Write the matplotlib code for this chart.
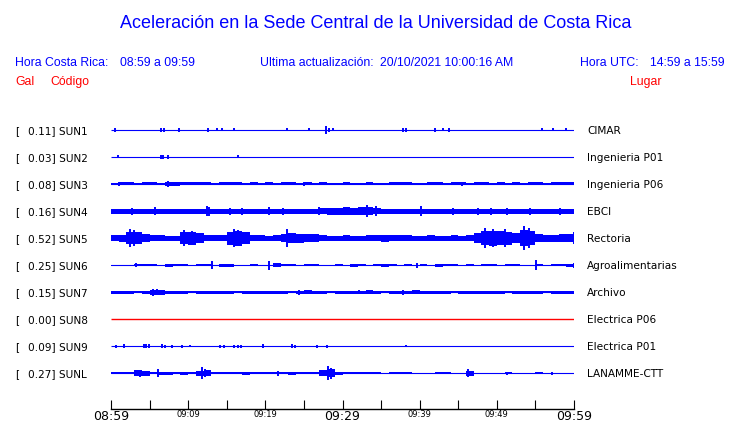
import numpy as np
import matplotlib
matplotlib.use("Agg")
import matplotlib.pyplot as plt

# station codes, peak acceleration (Gal) and site names
codes = ["SUN1", "SUN2", "SUN3", "SUN4", "SUN5", "SUN6", "SUN7", "SUN8", "SUN9", "SUNL"]
peaks = ["0.11", "0.03", "0.08", "0.16", "0.52", "0.25", "0.15", "0.00", "0.09", "0.27"]
places = ["CIMAR", "Ingenieria P01", "Ingenieria P06", "EBCI", "Rectoria",
          "Agroalimentarias", "Archivo", "Electrica P06", "Electrica P01", "LANAMME-CTT"]

# envelope half-amplitude per minute (pixels), 08:59 -> 09:59
env_sun1 = [0] * 60
env_sun2 = [0] * 60
env_sun3 = [1.0, 1.5, 1.5, 1.0, 1.5, 1.5, 1.0, 2.0, 2.0, 1.5,
            1.5, 1.5, 1.5, 1.0, 1.5, 1.5, 1.5, 1.0, 1.5, 1.0,
            1.5, 1.0, 1.5, 1.5, 1.0, 1.5, 1.0, 1.5, 1.0, 1.0,
            1.5, 1.0, 1.0, 1.5, 1.0, 1.0, 1.5, 1.5, 1.5, 1.0,
            1.0, 1.5, 1.5, 1.0, 1.5, 1.5, 1.0, 1.5, 1.5, 1.0,
            1.5, 1.0, 1.5, 1.0, 1.5, 1.5, 1.0, 1.5, 1.5, 1.5]
env_sun4 = [2.5, 2.5, 2.5, 2.5, 2.5, 2.5, 2.5, 2.5, 2.5, 2.5,
            2.5, 2.5, 2.5, 2.5, 2.5, 2.5, 2.5, 2.5, 2.5, 2.5,
            2.5, 2.5, 2.5, 2.5, 2.5, 2.5, 2.5, 3.0, 3.5, 3.5,
            4.0, 3.5, 4.0, 4.0, 3.0, 2.5, 2.5, 2.5, 2.5, 2.5,
            2.5, 2.5, 2.5, 2.5, 2.5, 2.5, 2.5, 2.5, 2.5, 2.5,
            2.5, 2.5, 2.5, 2.5, 2.5, 2.5, 2.5, 2.5, 2.5, 2.5]
env_sun5 = [3.0, 3.5, 6.0, 6.0, 4.0, 3.0, 3.0, 2.5, 2.5, 6.0,
            6.5, 5.0, 3.0, 3.0, 3.0, 6.5, 7.5, 6.0, 3.0, 3.0,
            2.5, 3.0, 4.0, 5.0, 4.5, 4.0, 4.0, 3.0, 2.5, 2.5,
            3.0, 2.5, 2.5, 3.0, 3.0, 3.5, 3.0, 3.0, 3.0, 2.5,
            2.5, 3.0, 2.5, 2.5, 3.0, 2.5, 3.0, 5.0, 7.0, 7.5,
            7.0, 6.5, 5.0, 8.0, 7.0, 4.0, 3.5, 3.5, 4.0, 4.0]
env_sun6 = [0.5, 0.5, 0.5, 1.2, 1.2, 1.2, 0.5, 1.5, 1.2, 1.2,
            0.5, 1.2, 1.2, 0.5, 1.5, 1.5, 0.5, 0.5, 1.2, 0.5,
            0.5, 2.0, 1.2, 1.2, 0.5, 1.2, 1.2, 0.5, 0.5, 1.2,
            0.5, 1.5, 1.2, 0.5, 1.2, 1.5, 1.2, 0.5, 1.2, 0.5,
            1.2, 0.5, 1.5, 1.2, 1.2, 0.5, 1.2, 0.5, 1.2, 1.2,
            0.5, 1.2, 1.2, 0.5, 0.5, 1.2, 0.5, 1.2, 1.2, 1.5]
env_sun7 = [1.5, 1.5, 1.5, 1.0, 1.5, 2.5, 2.5, 1.5, 1.5, 1.5,
            1.0, 1.5, 1.5, 1.5, 1.5, 1.5, 1.0, 1.5, 1.5, 1.5,
            1.5, 1.5, 1.5, 1.0, 1.5, 2.0, 1.5, 1.5, 1.0, 1.5,
            1.5, 1.5, 1.5, 2.0, 1.5, 1.0, 1.5, 1.5, 1.5, 2.0,
            1.5, 1.5, 1.5, 1.5, 1.0, 1.5, 1.5, 1.5, 1.5, 1.5,
            1.5, 1.0, 1.5, 1.5, 1.5, 1.5, 1.0, 1.5, 1.5, 1.5]
env_sun8 = [0] * 60
env_sun9 = [0] * 60
env_sunl = [1.0, 1.2, 1.2, 3.0, 2.5, 1.2, 1.5, 1.5, 1.2, 1.5,
            1.2, 2.5, 3.0, 1.2, 1.0, 1.2, 1.2, 1.5, 1.2, 1.2,
            1.2, 1.2, 1.0, 1.5, 1.2, 1.2, 1.0, 3.0, 4.0, 1.5,
            1.2, 1.2, 1.0, 1.2, 1.0, 0.5, 1.2, 1.2, 1.0, 0.5,
            0.5, 0.5, 1.2, 1.2, 0.5, 0.5, 2.5, 0.5, 0.5, 0.5,
            0.5, 0.8, 0.5, 0.5, 0.5, 0.8, 0.5, 0.5, 0.5, 0.5]

# isolated spikes: (minute after 08:59, half height in pixels)
spk_sun1 = [(0.5, 2), (6.5, 2), (6.9, 2), (8.8, 2), (12.6, 2), (13.7, 1.5), (14.4, 1.5),
            (16.0, 1.5), (22.8, 1.5), (25.7, 1.5), (27.9, 4), (28.3, 2), (28.8, 1.5),
            (37.9, 2), (38.2, 2), (42.0, 2), (43.0, 1.5), (43.8, 2), (55.8, 1.5),
            (57.3, 1.5), (59.0, 1.5)]
spk_sun2 = [(0.9, 1.5), (6.5, 2), (6.8, 2), (7.4, 2), (16.4, 1.5)]
spk_sun3 = [(1.0, 2), (7.4, 3), (25.0, 2), (45.5, 2)]
spk_sun4 = [(2.7, 3.5), (5.7, 4), (12.5, 5), (12.7, 4.5), (15.4, 3.5), (17.0, 3.5),
            (20.5, 4), (22.3, 3.5), (27.0, 4), (33.2, 6), (34.3, 5), (40.2, 5),
            (44.3, 3.5), (47.6, 3.5), (49.2, 3.5), (51.3, 3.5), (54.3, 3.5), (58.2, 3.5)]
spk_sun5 = [(2.5, 9), (3.0, 8), (9.5, 8), (10.5, 7), (16.0, 9), (16.5, 8), (22.8, 9),
            (48.5, 10), (49.5, 9), (51.0, 9), (53.5, 12), (54.2, 10), (60.0, 6)]
spk_sun6 = [(3.2, 2), (13.1, 4), (20.5, 4.5), (39.7, 2.5), (55.1, 5), (60.0, 2.5)]
spk_sun7 = [(5.5, 3.5), (5.9, 3), (24.3, 2.5), (32.2, 2), (37.9, 2.5)]
spk_sun8 = []
spk_sun9 = [(0.7, 1.5), (1.7, 2), (4.3, 2), (4.6, 2), (4.9, 2), (6.6, 2), (7.0, 1.5),
            (7.9, 1.5), (9.2, 1.5), (10.2, 1), (14.1, 1.5), (14.7, 1.5), (15.9, 1.5),
            (16.4, 1.5), (16.8, 1.5), (19.7, 2), (23.5, 2), (23.9, 1.5), (26.7, 1.5),
            (28.0, 1.5), (38.2, 1)]
spk_sunl = [(3.8, 3.5), (6.1, 4), (11.8, 6), (12.2, 4), (21.6, 2.5), (28.1, 7),
            (28.5, 5.5), (46.3, 4), (51.3, 1.5), (57.1, 1.5)]

envs = [env_sun1, env_sun2, env_sun3, env_sun4, env_sun5,
        env_sun6, env_sun7, env_sun8, env_sun9, env_sunl]
spikes = [spk_sun1, spk_sun2, spk_sun3, spk_sun4, spk_sun5,
          spk_sun6, spk_sun7, spk_sun8, spk_sun9, spk_sunl]

tick_minutes = [0, 10, 20, 30, 40, 50, 60]
tick_labels = ["08:59", "09:09", "09:19", "09:29", "09:39", "09:49", "09:59"]
big_labels = ["08:59", "09:29", "09:59"]

W, H = 740, 423
BLUE = "#0000ff"
RED = "#ff0000"


def fx(x):
    return x / W


def fy(y):
    return 1 - y / H


fig = plt.figure(figsize=(W / 100, H / 100), dpi=100)
ax = fig.add_axes([fx(111), fy(409), (574 - 111) / W, (409 - 115) / H])
ax.set_xlim(0, 60)
ax.set_ylim(409, 115)  # pixel rows, downward

first, step = 130, 27
edges = np.arange(61)
for k in range(len(codes)):
    c = first + step * k
    col = RED if codes[k] == "SUN8" else BLUE
    ax.hlines(c, 0, 60, color=col, lw=1.0 if col == RED else 0.8)
    e = np.array(envs[k] + [envs[k][-1]], dtype=float)
    if e.max() > 0:
        ax.fill_between(edges, c - e, c + e, step="post", color=col, lw=0)
    for m, h in spikes[k]:
        ax.vlines(m, c - h, c + h, color=col, lw=1.4)
    ty = c + 4
    fig.text(fx(15), fy(ty), "[", fontsize=7.6, va="baseline", family="DejaVu Sans")
    fig.text(fx(28), fy(ty), peaks[k] + "] " + codes[k], fontsize=7.6, va="baseline",
             family="DejaVu Sans")
    fig.text(fx(587), fy(ty), places[k], fontsize=7.6, va="baseline", family="DejaVu Sans")

for s in ["top", "left", "right"]:
    ax.spines[s].set_visible(False)
ax.spines["bottom"].set_linewidth(1.0)
ax.set_yticks([])
ax.set_xticks(tick_minutes, tick_labels)
ax.set_xticks(np.arange(0, 61, 5), minor=True)
ax.tick_params(axis="x", which="both", direction="in", length=6.5, width=0.8, pad=1)
for lab in ax.get_xticklabels():
    lab.set_family("DejaVu Sans")
    lab.set_fontsize(9 if lab.get_text() in big_labels else 6)

hf = "Liberation Sans"
fig.text(fx(375.5), fy(28), "Aceleración en la Sede Central de la Universidad de Costa Rica",
         color=BLUE, fontsize=13, ha="center", va="baseline", family=hf)
fig.text(fx(15), fy(66), "Hora Costa Rica:", color=BLUE, fontsize=8.8, va="baseline", family=hf)
fig.text(fx(120), fy(66), "08:59 a 09:59", color=BLUE, fontsize=8.8, va="baseline", family=hf)
fig.text(fx(260), fy(66), "Ultima actualización:", color=BLUE, fontsize=8.8, va="baseline", family=hf)
fig.text(fx(380), fy(66), "20/10/2021 10:00:16 AM", color=BLUE, fontsize=8.8, va="baseline", family=hf)
fig.text(fx(580), fy(66), "Hora UTC:", color=BLUE, fontsize=8.8, va="baseline", family=hf)
fig.text(fx(650), fy(66), "14:59 a 15:59", color=BLUE, fontsize=8.8, va="baseline", family=hf)
fig.text(fx(15), fy(85), "Gal", color=RED, fontsize=8.8, va="baseline", family=hf)
fig.text(fx(50), fy(85), "Código", color=RED, fontsize=8.8, va="baseline", family=hf)
fig.text(fx(630), fy(85), "Lugar", color=RED, fontsize=8.8, va="baseline", family=hf)

fig.savefig("out.png", dpi=100)
